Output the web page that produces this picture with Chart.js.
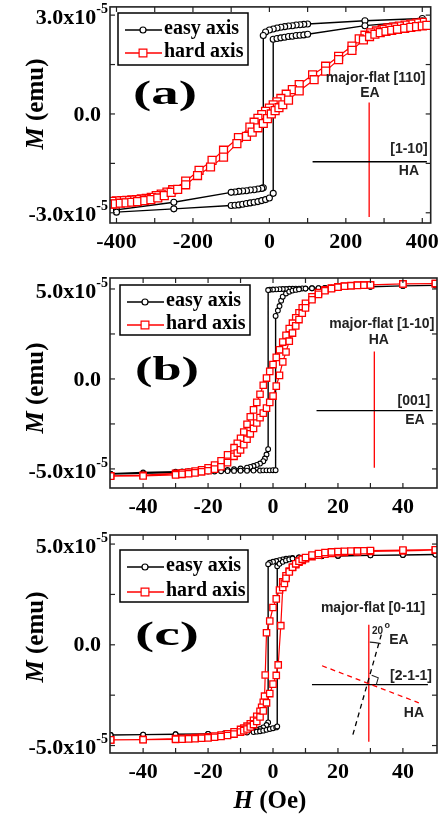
<!DOCTYPE html>
<html>
<head>
<meta charset="utf-8">
<script src="https://cdn.jsdelivr.net/npm/chart.js@4/dist/chart.umd.min.js"></script>
<style>
  body { margin: 0; background: #fff; width: 445px; height: 818px; overflow: hidden; position: relative; }
  .panel { position: absolute; left: 0; width: 445px; }
</style>
</head>
<body>
<div class="panel" style="top:0;height:252px"><canvas id="chartA"></canvas></div>
<div class="panel" style="top:252px;height:268px"><canvas id="chartB"></canvas></div>
<div class="panel" style="top:520px;height:298px"><canvas id="chartC"></canvas></div>
<script>
// M en unites de 1e-5 emu, H en Oe
// chaque boucle : branche descendante (+H -> -H) puis branche montante

const seriesNames = ['easy axis', 'hard axis'];

// (a) major-flat [110]
const aEasyH = [400, 250, 100, 90, 80, 70, 60, 50, 40, 30, 20, 10, 0, -10, -16, -16, -20, -30, -40, -50, -60, -70, -80, -90, -100, -250, -400,
                -400, -250, -100, -90, -80, -70, -60, -50, -40, -30, -20, -10, 0, 10, 10, 20, 30, 40, 50, 60, 70, 80, 90, 100, 250, 400];
const aEasyM = [2.90, 2.83, 2.73, 2.72, 2.71, 2.70, 2.68, 2.67, 2.65, 2.63, 2.61, 2.58, 2.55, 2.49, 2.38, -2.24, -2.26, -2.28, -2.30, -2.31, -2.33, -2.34, -2.35, -2.37, -2.38, -2.68, -2.91,
                -2.98, -2.88, -2.78, -2.77, -2.76, -2.74, -2.72, -2.70, -2.68, -2.66, -2.63, -2.60, -2.55, -2.41, 2.27, 2.29, 2.31, 2.33, 2.35, 2.36, 2.38, 2.39, 2.40, 2.42, 2.68, 2.83];
const aHardH = [400, 385, 370, 355, 340, 325, 310, 295, 280, 265, 250, 235, 216, 181, 147, 113, 78, 60, 44, 30, 20, 10, 0, -10, -20, -30, -40, -51, -81, -120, -150, -184, -219, -253, -268, -283, -296, -309, -322, -335, -348, -360, -373, -386, -400, -412,
                -412, -403, -390, -375, -360, -345, -326, -310, -292, -275, -257, -240, -219, -188, -154, -120, -85, -60, -45, -30, -16, -5, 5, 15, 25, 35, 50, 78, 117, 147, 181, 216, 246, 262, 276, 290, 305, 320, 335, 354, 370, 385, 400, 412];
const aHardM = [2.78, 2.76, 2.73, 2.70, 2.67, 2.64, 2.61, 2.57, 2.52, 2.46, 2.39, 2.28, 2.06, 1.75, 1.45, 1.19, 0.89, 0.74, 0.60, 0.47, 0.37, 0.28, 0.18, 0.08, -0.02, -0.13, -0.25, -0.40, -0.72, -1.10, -1.41, -1.71, -2.04, -2.30, -2.37, -2.43, -2.48, -2.53, -2.56, -2.58, -2.60, -2.61, -2.62, -2.63, -2.64, -2.65,
                -2.74, -2.73, -2.71, -2.70, -2.68, -2.66, -2.63, -2.60, -2.55, -2.48, -2.38, -2.29, -2.15, -1.87, -1.61, -1.31, -0.90, -0.68, -0.55, -0.42, -0.29, -0.14, 0.00, 0.10, 0.19, 0.28, 0.42, 0.70, 1.04, 1.30, 1.65, 1.93, 2.25, 2.35, 2.42, 2.47, 2.51, 2.54, 2.57, 2.60, 2.63, 2.65, 2.67, 2.69];
const aTicksX = [-400, -300, -200, -100, 0, 100, 200, 300, 400];
const aLabelsX = [-400, -200, 0, 200, 400];
const aTicksY = [-3, -1.5, 0, 1.5, 3];
const aLabelsY = [-3, 0, 3];

// (b) major-flat [1-10]
const bEasyH = [50, 40, 30, 20, 18, 16, 14, 12, 10, 9, 8, 7, 6, 5, 4, 3, 2, 1, 0, -1, -1.5, -1.5, -2, -2.5, -3, -4, -5, -6, -7, -8, -10, -12, -14, -16, -18, -20, -22, -24, -26, -28, -30, -40, -50,
                -50, -40, -30, -28, -26, -24, -22, -20, -18, -16, -14, -12, -10, -8, -6, -4, -3, -2, -1, 0, 0.8, 0.8, 1.5, 2, 2.5, 3, 4, 5, 6, 7, 8, 10, 12, 14, 16, 18, 20, 30, 40, 50];
const bEasyM = [5.20, 5.17, 5.12, 5.08, 5.07, 5.06, 5.05, 5.04, 5.03, 5.03, 5.02, 5.02, 5.01, 5.01, 5.00, 5.00, 4.99, 4.98, 4.97, 4.96, 4.94, -3.90, -4.20, -4.42, -4.57, -4.70, -4.78, -4.84, -4.89, -4.93, -4.98, -5.02, -5.05, -5.07, -5.09, -5.10, -5.11, -5.12, -5.13, -5.14, -5.15, -5.20, -5.26,
                -5.28, -5.24, -5.20, -5.19, -5.18, -5.17, -5.16, -5.15, -5.14, -5.13, -5.12, -5.11, -5.10, -5.10, -5.09, -5.09, -5.08, -5.08, -5.08, -5.07, -5.07, 3.50, 3.80, 4.05, 4.35, 4.57, 4.75, 4.85, 4.91, 4.95, 4.98, 5.02, 5.04, 5.05, 5.06, 5.07, 5.08, 5.12, 5.17, 5.20];
const bHardH = [50, 40, 30, 28, 26, 24, 22, 20, 18, 16, 14, 12, 10, 9, 8, 7, 6, 5, 4, 3, 2, 1, 0, -1, -2, -3, -4, -5, -6, -7, -8, -9, -10, -11, -12, -14, -16, -18, -20, -22, -24, -26, -28, -30, -40, -50,
                -50, -40, -30, -28, -26, -24, -22, -20, -18, -16, -14, -12, -11, -10, -9, -8, -7, -6, -5, -4, -3, -2, -1, 0, 1, 2, 3, 4, 5, 6, 7, 8, 9, 10, 12, 14, 16, 18, 20, 22, 24, 26, 28, 30, 40, 50];
const bHardM = [5.30, 5.28, 5.23, 5.22, 5.21, 5.19, 5.16, 5.12, 5.05, 4.95, 4.80, 4.57, 4.20, 3.95, 3.68, 3.40, 3.10, 2.80, 2.43, 2.05, 1.62, 1.20, 0.80, 0.42, 0.05, -0.35, -0.85, -1.30, -1.72, -2.10, -2.52, -2.95, -3.30, -3.58, -3.82, -4.22, -4.55, -4.78, -4.94, -5.05, -5.12, -5.18, -5.22, -5.25, -5.35, -5.38,
                -5.40, -5.39, -5.33, -5.30, -5.27, -5.22, -5.16, -5.10, -5.01, -4.88, -4.65, -4.30, -4.12, -3.94, -3.65, -3.35, -3.05, -2.75, -2.45, -2.15, -1.90, -1.62, -1.30, -0.95, -0.40, 0.20, 0.95, 1.50, 2.10, 2.55, 2.95, 3.30, 3.65, 3.95, 4.40, 4.70, 4.90, 5.02, 5.10, 5.15, 5.18, 5.20, 5.21, 5.22, 5.28, 5.30];
const bTicksX = [-40, -30, -20, -10, 0, 10, 20, 30, 40];
const bLabelsX = [-40, -20, 0, 20, 40];
const bTicksY = [-5, -2.5, 0, 2.5, 5];
const bLabelsY = [-5, 0, 5];

// (c) major-flat [0-11]
const cEasyH = [50, 40, 30, 20, 15, 10, 8, 6, 5, 4, 3, 2, 1, 0, -1, -1.5, -1.5, -2, -3, -4, -5, -6, -8, -10, -15, -20, -30, -40, -50,
                -50, -40, -30, -20, -15, -10, -8, -6, -5, -4, -3, -2, -1, 0, 1, 1.3, 1.3, 2, 3, 4, 5, 6, 8, 10, 15, 20, 30, 40, 50];
const cEasyM = [4.48, 4.46, 4.44, 4.41, 4.39, 4.36, 4.34, 4.31, 4.29, 4.27, 4.24, 4.20, 4.16, 4.12, 4.07, 4.00, -3.85, -3.98, -4.10, -4.18, -4.23, -4.27, -4.32, -4.35, -4.40, -4.42, -4.44, -4.46, -4.48,
                -4.48, -4.46, -4.44, -4.42, -4.40, -4.37, -4.35, -4.33, -4.31, -4.29, -4.26, -4.22, -4.18, -4.14, -4.10, -4.05, 3.90, 4.02, 4.12, 4.19, 4.24, 4.28, 4.33, 4.36, 4.40, 4.42, 4.44, 4.46, 4.48];
const cHardH = [50, 40, 30, 26, 22, 20, 18, 16, 14, 12, 10, 9, 8, 7, 6, 5, 4, 3, 2, 1, 0, -1, -2, -2.4, -2.6, -3, -3.5, -4, -5, -6, -7, -8, -9, -10, -12, -14, -16, -18, -20, -22, -24, -26, -28, -30, -40, -50,
                -50, -40, -30, -28, -26, -24, -22, -20, -18, -16, -14, -12, -10, -9, -8, -7, -6, -5, -4, -3, -2, -1, 0, 1, 1.6, 2.4, 3, 3.5, 4, 5, 6, 7, 8, 9, 10, 12, 14, 16, 18, 20, 22, 24, 26, 28, 30, 40, 50];
const cHardM = [4.70, 4.66, 4.63, 4.61, 4.59, 4.57, 4.54, 4.50, 4.45, 4.38, 4.27, 4.19, 4.10, 3.98, 3.84, 3.66, 3.42, 3.12, 2.72, 2.28, 1.85, 1.18, 0.60, -1.50, -2.55, -2.85, -3.10, -3.30, -3.55, -3.75, -3.92, -4.04, -4.13, -4.20, -4.32, -4.42, -4.48, -4.53, -4.57, -4.59, -4.61, -4.63, -4.64, -4.66, -4.70, -4.72,
                -4.72, -4.71, -4.69, -4.68, -4.67, -4.66, -4.64, -4.62, -4.59, -4.55, -4.50, -4.43, -4.33, -4.26, -4.18, -4.08, -3.96, -3.80, -3.58, -3.28, -2.88, -2.42, -1.95, -1.52, -1.00, 0.95, 2.85, 3.05, 3.30, 3.62, 3.85, 4.02, 4.15, 4.25, 4.33, 4.45, 4.53, 4.58, 4.61, 4.63, 4.64, 4.65, 4.66, 4.67, 4.68, 4.70, 4.72];
const cTicksX = [-40, -30, -20, -10, 0, 10, 20, 30, 40];
const cLabelsX = [-40, -20, 0, 20, 40];
const cTicksY = [-5, -2.5, 0, 2.5, 5];
const cLabelsY = [-5, 0, 5];

const SERIF = "'Liberation Serif', 'Times New Roman', serif";
const SANS = "'Liberation Sans', Arial, sans-serif";

const pts = (h, m) => h.map((v, i) => ({ x: v, y: m[i] }));

function line(ctx, x1, y1, x2, y2) {
  ctx.beginPath(); ctx.moveTo(x1, y1); ctx.lineTo(x2, y2); ctx.stroke();
}

// marqueur ouvert pour la legende
function marker(ctx, style, cx, cy, r, color) {
  ctx.save();
  ctx.fillStyle = '#fff'; ctx.strokeStyle = color; ctx.lineWidth = 1.2;
  ctx.beginPath();
  if (style === 'rect') {
    const s = r * Math.SQRT1_2;
    ctx.rect(cx - s, cy - s, 2 * s, 2 * s);
  } else {
    ctx.arc(cx, cy, r, 0, Math.PI * 2);
  }
  ctx.fill(); ctx.stroke();
  ctx.restore();
}

// cadre, graduations internes, etiquettes, legende et schema des axes
function decor(p) {
  return {
    id: 'decor',
    afterDraw(chart) {
      const { ctx, chartArea: a, scales: { x, y } } = chart;
      const X = v => x.getPixelForValue(v);
      const Y = v => y.getPixelForValue(v);
      ctx.save();

      // graduations vers l'interieur sur les 4 cotes
      ctx.strokeStyle = '#222';
      ctx.lineWidth = 1.2;
      x.ticks.forEach(t => {
        const px = X(t.value);
        line(ctx, px, a.bottom, px, a.bottom - 5);
        line(ctx, px, a.top, px, a.top + 5);
      });
      y.ticks.forEach(t => {
        const py = Y(t.value);
        line(ctx, a.left, py, a.left + 5, py);
        line(ctx, a.right, py, a.right - 5, py);
      });
      ctx.lineWidth = 1.6;
      ctx.strokeRect(a.left, a.top, a.right - a.left, a.bottom - a.top);

      // etiquettes de l'axe M avec exposant
      ctx.fillStyle = '#000';
      p.labelsY.forEach(v => {
        const py = Y(v);
        if (v === 0) {
          ctx.font = 'bold 22px ' + SERIF;
          ctx.textAlign = 'right'; ctx.textBaseline = 'middle';
          ctx.fillText('0.0', 101, py + 1);
          return;
        }
        ctx.font = 'bold 14px ' + SERIF;
        const sw = ctx.measureText('-5').width;
        ctx.textAlign = 'left'; ctx.textBaseline = 'middle';
        ctx.fillText('-5', 108 - sw, py - 6);
        ctx.font = 'bold 22px ' + SERIF;
        ctx.textAlign = 'right';
        ctx.fillText((v < 0 ? '-' : '') + Math.abs(v).toFixed(1) + 'x10', 108 - sw, py + 3);
      });

      // titre de l'axe M
      ctx.save();
      ctx.translate(37, p.titleY);
      ctx.rotate(-Math.PI / 2);
      ctx.textBaseline = 'middle'; ctx.textAlign = 'left';
      ctx.font = 'italic bold 25px ' + SERIF;
      const wM = ctx.measureText('M').width;
      ctx.font = 'bold 25px ' + SERIF;
      const wR = ctx.measureText(' (emu)').width;
      const x0 = -(wM + wR) / 2;
      ctx.font = 'italic bold 25px ' + SERIF;
      ctx.fillText('M', x0, 0);
      ctx.font = 'bold 25px ' + SERIF;
      ctx.fillText(' (emu)', x0 + wM, 0);
      ctx.restore();

      // titre de l'axe H (dernier panneau)
      if (p.showH) {
        ctx.textBaseline = 'middle'; ctx.textAlign = 'left';
        ctx.font = 'italic bold 25px ' + SERIF;
        const wH = ctx.measureText('H').width;
        ctx.font = 'bold 25px ' + SERIF;
        const wO = ctx.measureText(' (Oe)').width;
        const hx = 270 - (wH + wO) / 2;
        ctx.font = 'italic bold 25px ' + SERIF;
        ctx.fillText('H', hx, p.hTitleY);
        ctx.font = 'bold 25px ' + SERIF;
        ctx.fillText(' (Oe)', hx + wH, p.hTitleY);
      }

      // lettre du panneau, un peu elargie
      ctx.save();
      ctx.font = 'bold 33px ' + SERIF;
      const lw = ctx.measureText(p.letter).width;
      ctx.translate(p.letterX, p.letterY);
      ctx.scale(64 / lw, 1);
      ctx.textAlign = 'center'; ctx.textBaseline = 'middle';
      ctx.fillText(p.letter, 0, 0);
      ctx.restore();

      // legende encadree
      const L = p.legend;
      ctx.lineWidth = 1.5; ctx.strokeStyle = '#000';
      ctx.strokeRect(L.x, L.y, L.w, L.h);
      chart.data.datasets.forEach((ds, i) => {
        const ry = L.y + L.rows[i];
        ctx.strokeStyle = ds.borderColor; ctx.lineWidth = 1.3;
        line(ctx, L.x + 7, ry, L.x + 44, ry);
        marker(ctx, ds.pointStyle, L.x + 25, ry, ds.pointStyle === 'rect' ? 5.5 : 3, ds.borderColor);
        ctx.fillStyle = '#000';
        ctx.font = 'bold 20px ' + SERIF;
        ctx.textAlign = 'left'; ctx.textBaseline = 'middle';
        ctx.fillText(ds.label, L.x + 46, ry - 1);
      });

      // schema des directions cristallines
      p.marks.lines.forEach(l => {
        ctx.strokeStyle = l.color; ctx.lineWidth = 1.3;
        ctx.setLineDash(l.dash || []);
        line(ctx, X(l.h1), Y(l.m1), X(l.h2), Y(l.m2));
      });
      ctx.setLineDash([]);
      ctx.fillStyle = '#222';
      ctx.textAlign = 'center'; ctx.textBaseline = 'middle';
      p.marks.texts.forEach(t => {
        ctx.font = 'bold ' + (t.size || 14) + 'px ' + SANS;
        ctx.fillText(t.text, X(t.h), Y(t.m));
      });
      if (p.marks.angle) {
        const g = p.marks.angle;
        const cx = X(g.h), cy = Y(g.m);
        const ea = p.marks.lines[g.ea], ha = p.marks.lines[g.ha];
        const ux = X(ea.h2) - X(ea.h1), uy = Y(ea.m2) - Y(ea.m1);
        const un = Math.hypot(ux, uy);
        const vx = X(ha.h2) - X(ha.h1), vy = Y(ha.m2) - Y(ha.m1);
        const vn = Math.hypot(vx, vy);
        ctx.strokeStyle = '#222'; ctx.lineWidth = 1.1;
        // arc de 20 degres entre le trait vertical et l'axe facile
        ctx.beginPath();
        ctx.arc(cx, cy, 40, -Math.PI / 2, Math.atan2(uy, ux));
        ctx.stroke();
        // angle droit entre axe facile et axe difficile
        const s = 7;
        ctx.beginPath();
        ctx.moveTo(cx + s * ux / un, cy + s * uy / un);
        ctx.lineTo(cx + s * ux / un + s * vx / vn, cy + s * uy / un + s * vy / vn);
        ctx.lineTo(cx + s * vx / vn, cy + s * vy / vn);
        ctx.stroke();
      }
      ctx.restore();
    }
  };
}

function makePanel(id, p) {
  return new Chart(document.getElementById(id), {
    type: 'scatter',
    data: {
      datasets: [
        {
          label: seriesNames[0], data: pts(p.easyH, p.easyM), showLine: true,
          borderColor: '#000', borderWidth: 1.4, pointStyle: 'circle', pointRadius: p.rCircle,
          pointBorderWidth: 1.1, pointBackgroundColor: '#fff', pointBorderColor: '#000', order: 1
        },
        {
          label: seriesNames[1], data: pts(p.hardH, p.hardM), showLine: true,
          borderColor: '#ff0000', borderWidth: 1.2, pointStyle: 'rect', pointRadius: p.rSquare,
          pointBorderWidth: 1.3, pointBackgroundColor: '#fff', pointBorderColor: '#ff0000', order: 0
        }
      ]
    },
    options: {
      responsive: true,
      maintainAspectRatio: false,
      animation: false,
      events: [],
      layout: { padding: { top: p.padTop, right: 8, left: 0, bottom: 0 } },
      plugins: { legend: { display: false }, tooltip: { enabled: false } },
      scales: {
        x: {
          type: 'linear', min: p.xMin, max: p.xMax,
          grid: { display: false, drawTicks: false }, border: { display: false },
          afterBuildTicks: s => { s.ticks = p.ticksX.map(v => ({ value: v })); },
          afterFit: s => { s.height = p.xHeight; },
          ticks: {
            padding: 6, color: '#000', autoSkip: false, maxRotation: 0,
            font: { family: SERIF, size: 22, weight: 'bold' },
            callback: v => (p.labelsX.includes(v) ? String(v) : '')
          }
        },
        y: {
          type: 'linear', min: p.yMin, max: p.yMax,
          grid: { display: false, drawTicks: false }, border: { display: false },
          afterBuildTicks: s => { s.ticks = p.ticksY.map(v => ({ value: v })); },
          afterFit: s => { s.width = 110; },
          ticks: { display: false }
        }
      }
    },
    plugins: [decor(p)]
  });
}

makePanel('chartA', {
  easyH: aEasyH, easyM: aEasyM, hardH: aHardH, hardM: aHardM,
  ticksX: aTicksX, labelsX: aLabelsX, ticksY: aTicksY, labelsY: aLabelsY,
  xMin: -417, xMax: 422, yMin: -3.31, yMax: 3.25,
  padTop: 6, xHeight: 29, rCircle: 3, rSquare: 5.6,
  titleY: 104, letter: '(a)', letterX: 165, letterY: 95,
  legend: { x: 118, y: 13, w: 130, h: 52, rows: [17, 40] },
  marks: {
    lines: [
      { h1: 261, m1: 0.35, h2: 261, m2: -3.13, color: '#ff0000' },
      { h1: 113, m1: -1.45, h2: 412, m2: -1.45, color: '#000' }
    ],
    texts: [
      { h: 278, m: 1.10, text: 'major-flat [110]' },
      { h: 263, m: 0.62, text: 'EA' },
      { h: 365, m: -1.08, text: '[1-10]' },
      { h: 365, m: -1.75, text: 'HA' }
    ]
  }
});

makePanel('chartB', {
  easyH: bEasyH, easyM: bEasyM, hardH: bHardH, hardM: bHardM,
  ticksX: bTicksX, labelsX: bLabelsX, ticksY: bTicksY, labelsY: bLabelsY,
  xMin: -50.2, xMax: 50.5, yMin: -6.06, yMax: 5.61,
  padTop: 26, xHeight: 32, rCircle: 2.4, rSquare: 4.5,
  titleY: 136, letter: '(b)', letterX: 167, letterY: 119,
  legend: { x: 120, y: 33, w: 130, h: 50, rows: [17, 40] },
  marks: {
    lines: [
      { h1: 31.2, m1: 1.53, h2: 31.2, m2: -4.94, color: '#ff0000' },
      { h1: 13.4, m1: -1.76, h2: 49.2, m2: -1.76, color: '#000' }
    ],
    texts: [
      { h: 33.5, m: 3.07, text: 'major-flat [1-10]' },
      { h: 32.6, m: 2.18, text: 'HA' },
      { h: 43.4, m: -1.21, text: '[001]' },
      { h: 43.7, m: -2.3, text: 'EA' }
    ]
  }
});

makePanel('chartC', {
  easyH: cEasyH, easyM: cEasyM, hardH: cHardH, hardM: cHardM,
  ticksX: cTicksX, labelsX: cLabelsX, ticksY: cTicksY, labelsY: cLabelsY,
  xMin: -50.2, xMax: 50.5, yMin: -5.37, yMax: 5.45,
  padTop: 15, xHeight: 65, rCircle: 2.4, rSquare: 4.5,
  titleY: 117, letter: '(c)', letterX: 167, letterY: 116,
  showH: true, hTitleY: 282,
  legend: { x: 120, y: 30, w: 128, h: 52, rows: [17, 42] },
  marks: {
    lines: [
      { h1: 29.5, m1: 0.99, h2: 29.5, m2: -4.81, color: '#ff0000' },
      { h1: 12, m1: -1.98, h2: 47.7, m2: -1.98, color: '#000' },
      { h1: 15.1, m1: -1.04, h2: 44.9, m2: -2.88, color: '#ff0000', dash: [5, 4] },
      { h1: 24.6, m1: -4.46, h2: 33.5, m2: 0.59, color: '#000', dash: [5, 4] }
    ],
    texts: [
      { h: 30.8, m: 1.83, text: 'major-flat [0-11]' },
      { h: 32.2, m: 0.66, text: '20', size: 10 },
      { h: 35.2, m: 0.98, text: 'o', size: 9 },
      { h: 38.8, m: 0.25, text: 'EA' },
      { h: 42.5, m: -1.54, text: '[2-1-1]' },
      { h: 43.4, m: -3.37, text: 'HA' }
    ],
    angle: { h: 29.8, m: -1.85, ea: 3, ha: 2 }
  }
});
</script>
</body>
</html>
